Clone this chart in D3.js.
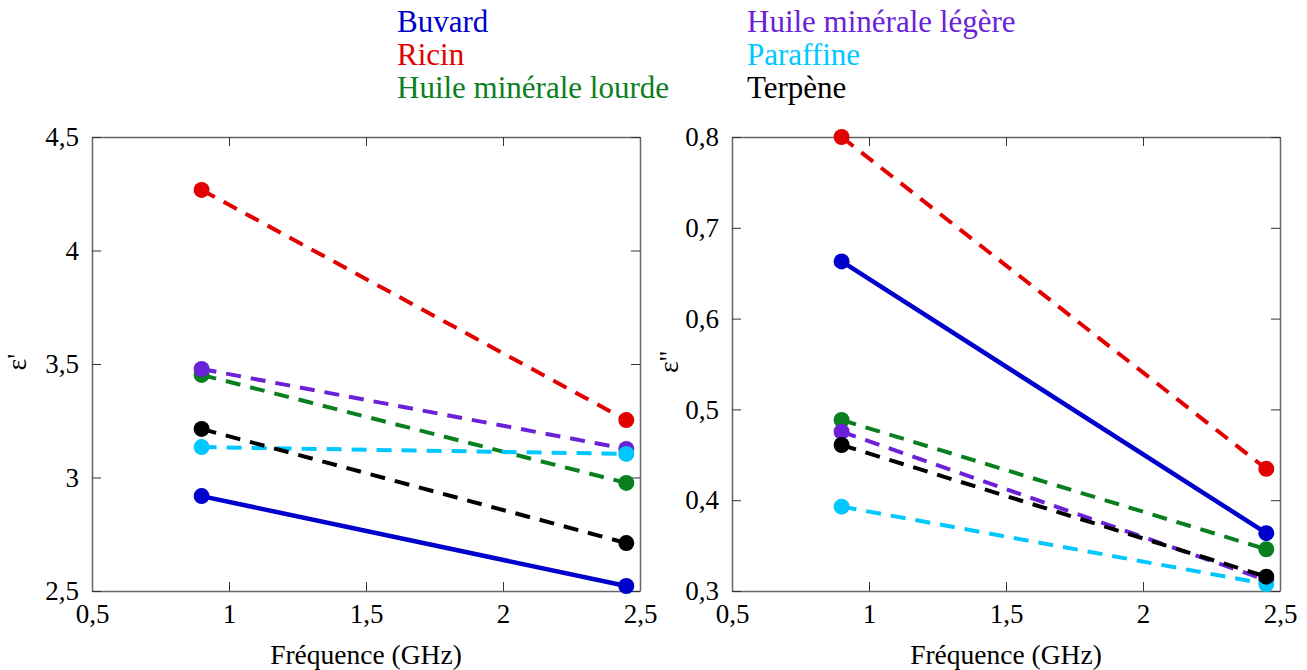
<!DOCTYPE html>
<html>
<head>
<meta charset="utf-8">
<script src="https://cdn.jsdelivr.net/npm/d3@7"></script>
<style>
  body { margin: 0; background: #fff; }
</style>
</head>
<body>
<div id="canvas"></div>
<script>
"use strict"

/* data: two frequencies, six liquids */
let frequencies = [0.9, 2.45];
let liquids = ["Buvard", "Ricin", "Huile minérale lourde", "Huile minérale légère", "Paraffine", "Terpène"];
let liquidColors = ["#0000cc", "#e30000", "#0a7f1f", "#6b21d8", "#00c8ff", "#000000"];
let dashed = [false, true, true, true, true, true];

// epsilon' (left panel), one pair per liquid
let epsReal = [
    [2.918, 2.522],
    [4.267, 3.253],
    [3.452, 2.976],
    [3.478, 3.126],
    [3.134, 3.104],
    [3.214, 2.711]
];

// epsilon'' (right panel)
let epsImag = [
    [0.663, 0.3637],
    [0.800, 0.4345],
    [0.4883, 0.346],
    [0.4754, 0.312],
    [0.3929, 0.3077],
    [0.4608, 0.3158]
];

let xTicks = [0.5, 1, 1.5, 2, 2.5];
let leftTicks = [2.5, 3, 3.5, 4, 4.5];
let rightTicks = [0.3, 0.4, 0.5, 0.6, 0.7, 0.8];

let svgWidth = 1307;
let svgHeight = 670;
let fontName = "'Liberation Serif', 'Times New Roman', serif";

let svg = d3.select("#canvas")
    .append("svg")
    .attr("width", svgWidth)
    .attr("height", svgHeight);

/* french decimal comma */
let fr = d3.formatLocale({decimal: ",", thousands: " ", grouping: [3], currency: ["", " €"]});
let tickFormat = fr.format(".2~f");

// "top" is taken by window.top, hence the longer names
let plotTop = 137;
let plotBottom = 591;

function drawPanel(left, right, yDomain, yTicks, values) {
    let xScale = d3.scaleLinear()
        .domain([0.5, 2.5])
        .range([left, right]);
    let yScale = d3.scaleLinear()
        .domain(yDomain)
        .range([plotBottom, plotTop]);

    // the four sides, ticks pointing inside
    let axes = [
        [d3.axisBottom(xScale).tickValues(xTicks).tickFormat(tickFormat).tickPadding(13), 0, plotBottom],
        [d3.axisTop(xScale).tickValues(xTicks).tickFormat(""), 0, plotTop],
        [d3.axisLeft(yScale).tickValues(yTicks).tickFormat(tickFormat).tickPadding(13), left, 0],
        [d3.axisRight(yScale).tickValues(yTicks).tickFormat(""), right, 0]
    ];
    axes.forEach(function (a) {
        let g = svg.append("g")
            .attr("transform", "translate(" + a[1] + "," + a[2] + ")")
            .call(a[0].tickSizeInner(-9).tickSizeOuter(0));
        g.attr("font-family", fontName).attr("font-size", 27);
        g.select(".domain").attr("stroke", "#666").attr("stroke-width", 1.5);
        g.selectAll(".tick line").attr("stroke", "#333");
        g.selectAll(".tick text").attr("fill", "#000");
    });

    let line = d3.line()
        .x(function (d) { return xScale(d[0]); })
        .y(function (d) { return yScale(d[1]); });

    values.forEach(function (pair, i) {
        let pts = frequencies.map(function (f, j) { return [f, pair[j]]; });
        svg.append("path")
            .datum(pts)
            .attr("fill", "none")
            .attr("stroke", liquidColors[i])
            .attr("stroke-width", dashed[i] ? 4 : 4.5)
            .attr("stroke-dasharray", dashed[i] ? "15,10" : null)
            .attr("d", line);
        svg.selectAll(null)
            .data(pts)
            .join("circle")
            .attr("cx", function (d) { return xScale(d[0]); })
            .attr("cy", function (d) { return yScale(d[1]); })
            .attr("r", 8)
            .attr("fill", liquidColors[i]);
    });

    svg.append("text")
        .attr("x", (left + right) / 2)
        .attr("y", 664)
        .attr("text-anchor", "middle")
        .attr("font-family", fontName)
        .attr("font-size", 27.5)
        .text("Fréquence (GHz)");

    return yScale;
}

drawPanel(92, 640, [2.5, 4.5], leftTicks, epsReal);
drawPanel(732, 1280, [0.3, 0.8], rightTicks, epsImag);

/* y axis labels, rotated */
svg.append("text")
    .attr("transform", "translate(26,362) rotate(-90)")
    .attr("text-anchor", "middle")
    .attr("font-family", fontName)
    .attr("font-size", 28)
    .text("ε'");

svg.append("text")
    .attr("transform", "translate(678,362) rotate(-90)")
    .attr("text-anchor", "middle")
    .attr("font-family", fontName)
    .attr("font-size", 28)
    .text("ε''");

/* legend: two columns of coloured names */
let legendX = [397, 747];
liquids.forEach(function (name, i) {
    let col = Math.floor(i / 3);
    let row = i % 3;
    svg.append("text")
        .attr("x", legendX[col])
        .attr("y", 32 + row * 33)
        .attr("font-family", fontName)
        .attr("font-size", 31)
        .attr("fill", liquidColors[i])
        .text(name);
});
</script>
</body>
</html>
